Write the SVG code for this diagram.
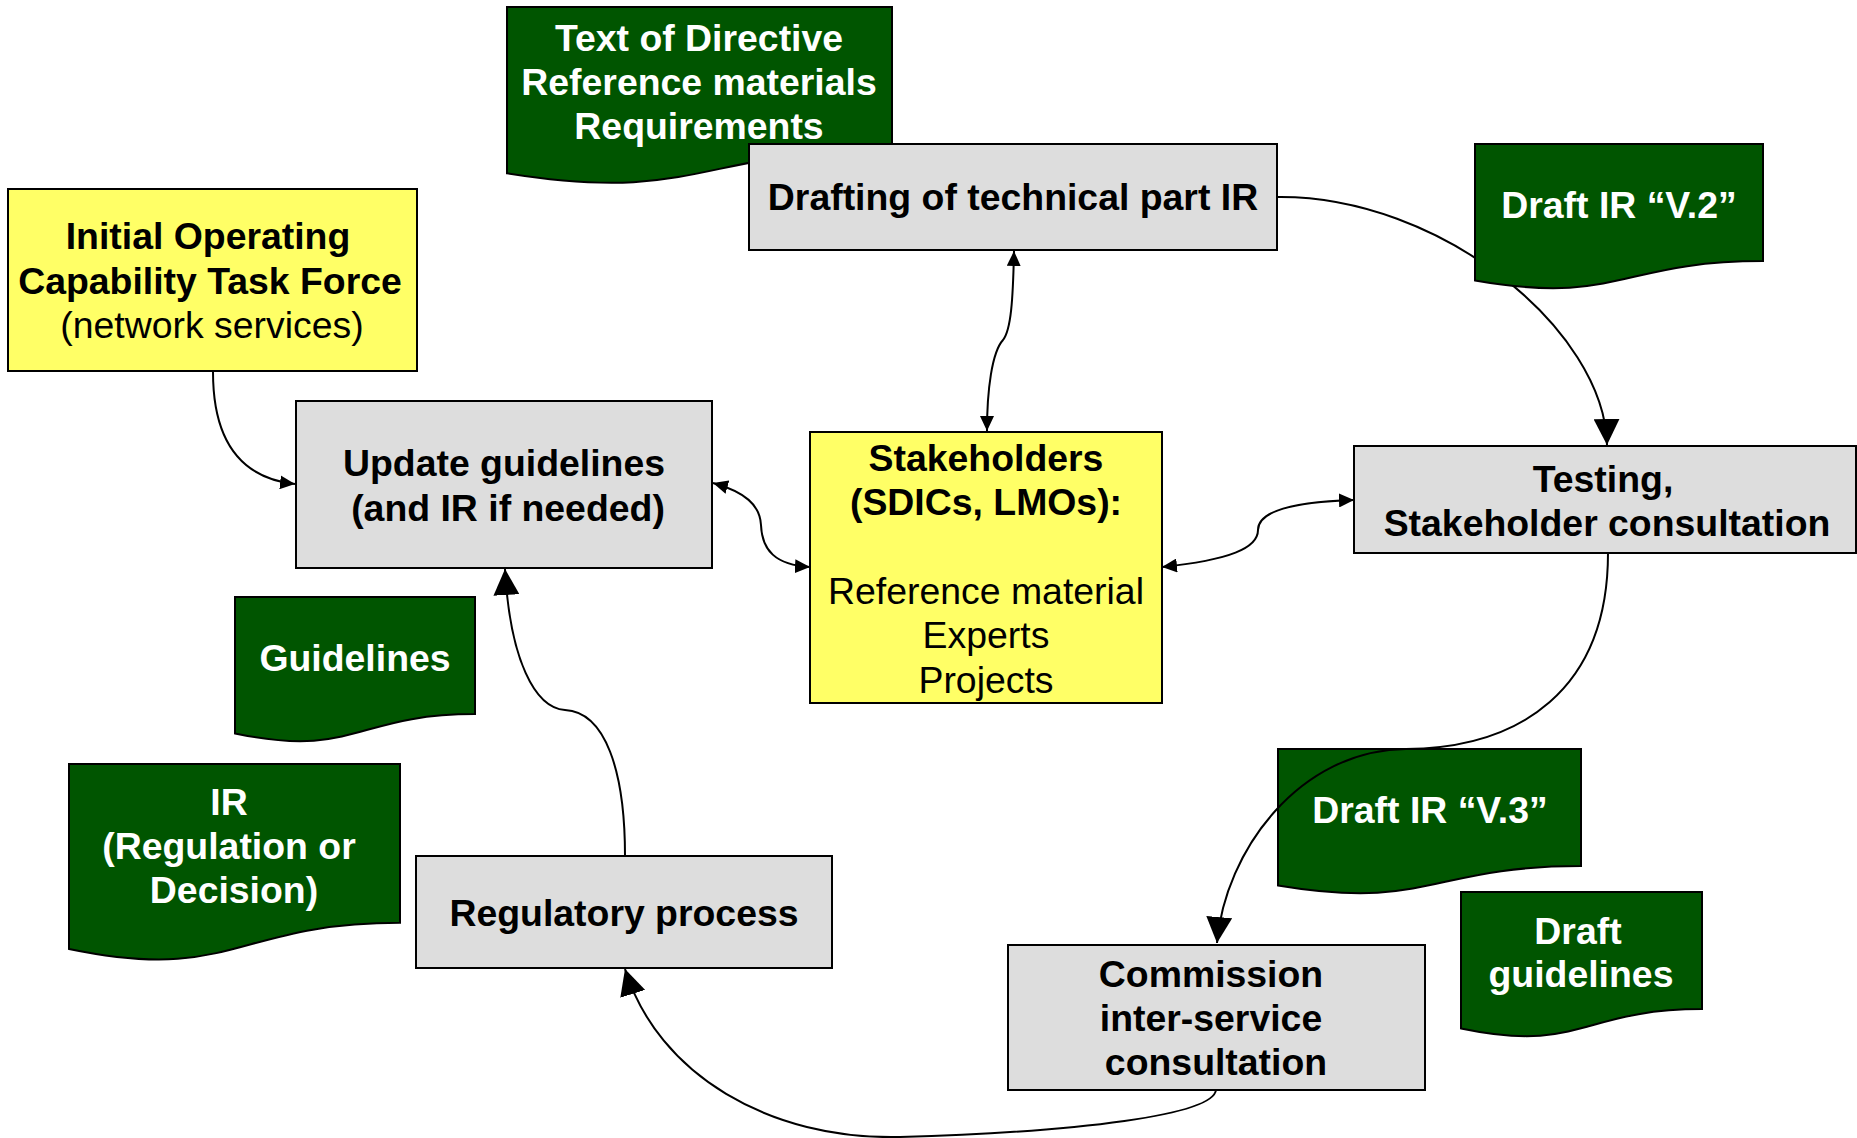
<svg xmlns="http://www.w3.org/2000/svg" width="1857" height="1138" viewBox="0 0 1857 1138">
<style>
.box{fill:#DDDDDD;stroke:#000;stroke-width:2}
.yel{fill:#FFFF66;stroke:#000;stroke-width:2}
.doc{fill:#005500;stroke:#000;stroke-width:2}
text{font-family:"Liberation Sans",Arial,sans-serif;font-size:37.4px;text-anchor:middle}
.b{font-weight:bold}
.w{fill:#FFFFFF;font-weight:bold}
.c{fill:none;stroke:#000;stroke-width:2}
</style>
<defs>
<marker id="big" markerUnits="userSpaceOnUse" markerWidth="26" markerHeight="26" viewBox="0 0 26 26" refX="26" refY="13" orient="auto"><path d="M0,0 L26,13 L0,26 Z" fill="#000"/></marker>
<marker id="sm" markerUnits="userSpaceOnUse" markerWidth="15" markerHeight="14" viewBox="0 0 15 14" refX="15" refY="7" orient="auto-start-reverse"><path d="M0,0 L15,7 L0,14 Z" fill="#000"/></marker>
</defs>
<rect width="1857" height="1138" fill="#FFFFFF"/>

<g id="doc-directive">
<path class="doc" d="M507,7 H892 V149.8 C699.5,149.8 699.5,204.1 507,173.3 Z"/>
<text class="w" x="699" y="51">Text of Directive</text>
<text class="w" x="699" y="95">Reference materials</text>
<text class="w" x="699" y="139">Requirements</text>
</g>

<g id="drafting">
<rect class="box" x="749" y="144" width="528" height="106"/>
<text class="b" x="1013" y="210">Drafting of technical part IR</text>
</g>

<g id="ioc">
<rect class="yel" x="8" y="189" width="409" height="182"/>
<text class="b" x="208" y="249">Initial Operating</text>
<text class="b" x="210" y="294">Capability Task Force</text>
<text x="212" y="338">(network services)</text>
</g>

<g id="update">
<rect class="box" x="296" y="401" width="416" height="167"/>
<text class="b" x="504" y="476">Update guidelines</text>
<text class="b" x="508" y="521">(and IR if needed)</text>
</g>

<g id="stakeholders">
<rect class="yel" x="810" y="432" width="352" height="271"/>
<text class="b" x="986" y="471">Stakeholders</text>
<text class="b" x="986" y="515">(SDICs, LMOs):</text>
<text x="986" y="604">Reference material</text>
<text x="986" y="648">Experts</text>
<text x="986" y="693">Projects</text>
</g>

<g id="testing">
<rect class="box" x="1354" y="446" width="502" height="107"/>
<text class="b" x="1603" y="492">Testing,</text>
<text class="b" x="1607" y="536">Stakeholder consultation</text>
</g>

<g id="doc-guidelines">
<path class="doc" d="M235,597 H475 V714.1 C355,714.1 355,758.7 235,733.4 Z"/>
<text class="w" x="355" y="671">Guidelines</text>
</g>

<g id="doc-ir">
<path class="doc" d="M69,764 H400 V922.8 C234.5,922.8 234.5,983.3 69,948.9 Z"/>
<text class="w" x="229" y="815">IR</text>
<text class="w" x="229" y="859">(Regulation or</text>
<text class="w" x="234" y="903">Decision)</text>
</g>

<g id="regulatory">
<rect class="box" x="416" y="856" width="416" height="112"/>
<text class="b" x="624" y="926">Regulatory process</text>
</g>

<g id="doc-v3">
<path class="doc" d="M1278,749 H1581 V866.1 C1429.5,866.1 1429.5,910.7 1278,885.4 Z"/>
<text class="w" x="1430" y="823">Draft IR “V.3”</text>
</g>

<g id="doc-draft-guidelines">
<path class="doc" d="M1461,892 H1702 V1009.1 C1581.5,1009.1 1581.5,1053.7 1461,1028.4 Z"/>
<text class="w" x="1578" y="944">Draft</text>
<text class="w" x="1581" y="987">guidelines</text>
</g>

<g id="commission">
<rect class="box" x="1008" y="945" width="417" height="145"/>
<text class="b" x="1211" y="987">Commission</text>
<text class="b" x="1211" y="1031">inter-service</text>
<text class="b" x="1216" y="1075">consultation</text>
</g>

<g id="connectors">
<path class="c" d="M213,372 C213,440 240,478 295,484" marker-end="url(#sm)"/>
<path class="c" d="M713,483 C745,492 760,505 761,525 C762,550 775,565 810,567" marker-start="url(#sm)" marker-end="url(#sm)"/>
<path class="c" d="M1014,251 C1013,300 1011,330 1003,340 C992,352 987,390 987,431" marker-start="url(#sm)" marker-end="url(#sm)"/>
<path class="c" d="M1162,567 C1230,560 1258,548 1258,530 C1258,512 1290,502 1354,500" marker-start="url(#sm)" marker-end="url(#sm)"/>
<path class="c" d="M1277,197 C1440,195 1605,330 1607,445" marker-end="url(#big)"/>
<path class="c" d="M1608,553 C1608,690 1520,748 1406,749 C1300,750 1225,850 1217,943" marker-end="url(#big)"/>
<path class="c" d="M1216,1090 C1213,1115 1080,1132 900,1137 C770,1140 658,1075 625,969" marker-end="url(#big)"/>
<path class="c" d="M625,856 C625,770 605,712 565,710 C535,708 510,660 505,569" marker-end="url(#big)"/>
</g>

<g id="doc-v2">
<path class="doc" d="M1475,144 H1763 V261.1 C1619,261.1 1619,305.7 1475,280.4 Z"/>
<text class="w" x="1619" y="218">Draft IR “V.2”</text>
</g>
</svg>
